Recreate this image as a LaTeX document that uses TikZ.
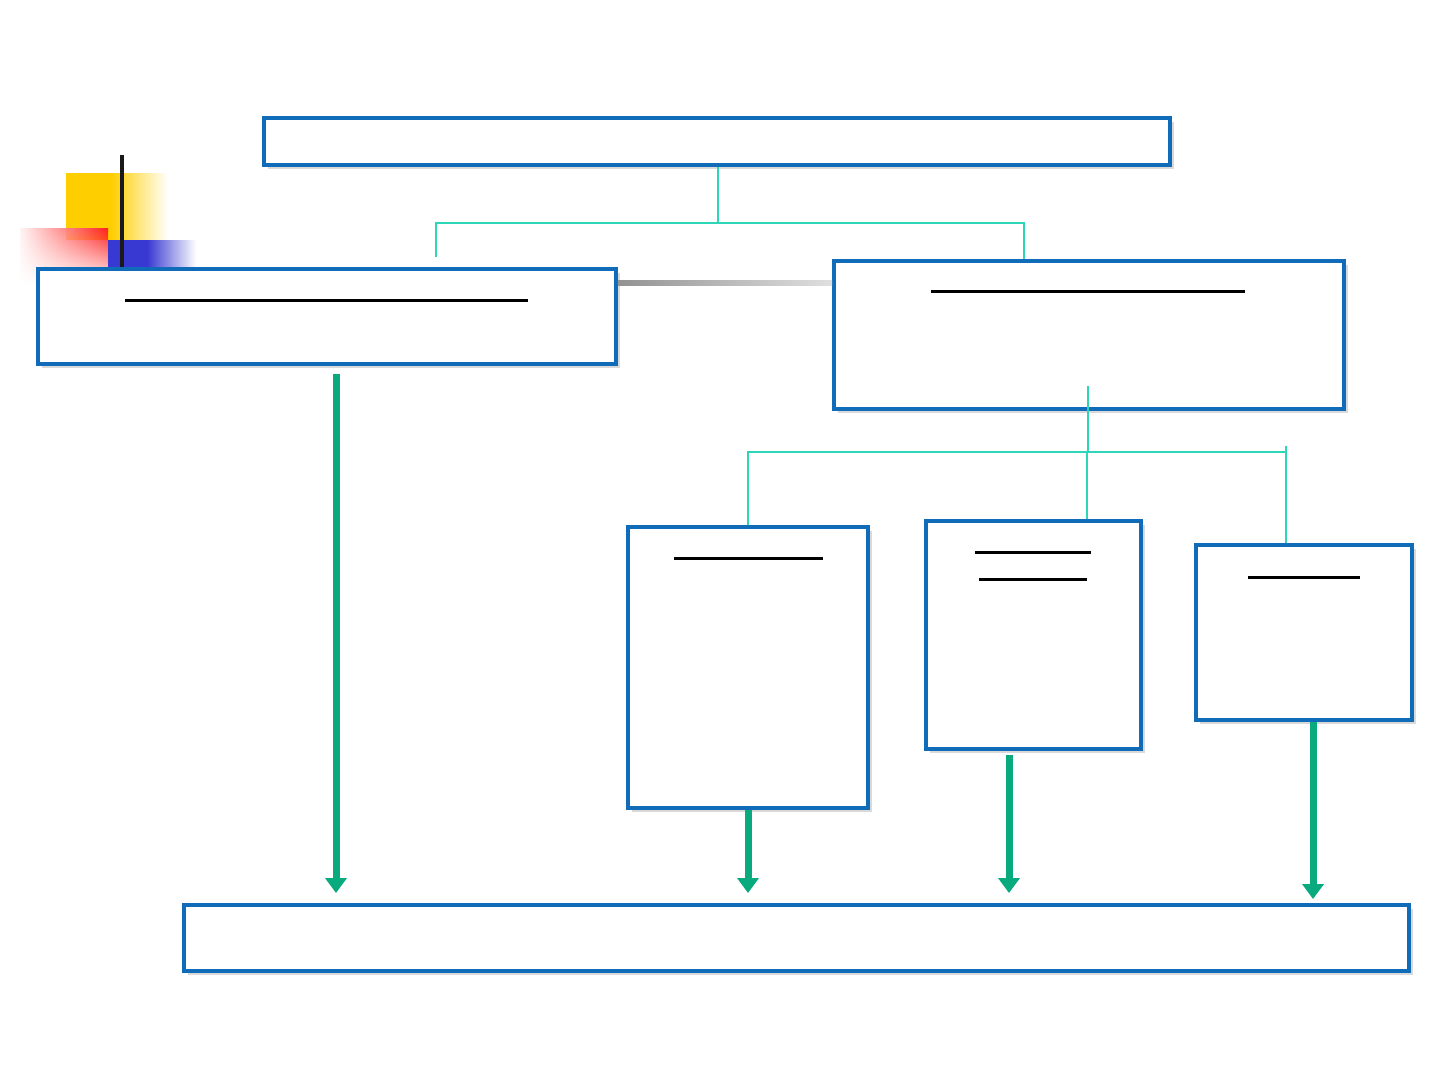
\documentclass[tikz,border=0pt]{standalone}
\usepackage{tikz}
\usetikzlibrary{arrows.meta, positioning, shadows, calc, fadings}
\definecolor{BoxBlue}{RGB}{16, 108, 184}
\definecolor{TreeGreen}{RGB}{46, 214, 184}
\definecolor{ArrowGreen}{RGB}{8, 170, 126}
\definecolor{DecoYellow}{RGB}{255, 206, 0}
\definecolor{DecoRed}{RGB}{255, 32, 32}
\definecolor{DecoBlue}{RGB}{56, 56, 210}
\begin{document}
\begin{tikzpicture}[x=0.02cm, y=-0.02cm]
        \tikzstyle{panel} = [rectangle, draw=BoxBlue, line width=0.08cm, fill=white, inner sep=0pt, drop shadow={shadow xshift=0.08cm, shadow yshift=-0.08cm, opacity=0.3, fill=gray}]
        \tikzstyle{tree} = [TreeGreen, line width=0.7pt]
        \tikzstyle{flow} = [-{Triangle[width=0.42cm, length=0.3cm]}, ArrowGreen, line width=0.14cm]
        \tikzstyle{uline} = [black, line width=0.06cm]

        \useasboundingbox (0,0) rectangle (1440,1080);

        % Decoration
        \fill[DecoYellow] (66,173) rectangle (112,240);
        \shade[left color=DecoYellow, right color=white] (111,173) rectangle (168,240);
        \shade[left color=DecoRed!5, right color=DecoRed, path fading=south] (20,228) rectangle (108,285);
        \fill[DecoBlue] (108,240) rectangle (148,270);
        \shade[left color=DecoBlue, right color=white] (147,240) rectangle (196,270);
        \draw[black!90, line width=0.09cm] (122,155) -- (122,270);

        % Noduri
        \node (top) [panel, minimum width=18.12cm, minimum height=0.94cm] at (717,141.5) {};
        \node (left) [panel, minimum width=11.56cm, minimum height=1.9cm] at (327,316.5) {};
        \node (right) [panel, minimum width=10.2cm, minimum height=2.96cm] at (1089,335) {};
        \node (boxA) [panel, minimum width=4.8cm, minimum height=5.62cm] at (748,667.5) {};
        \node (boxB) [panel, minimum width=4.3cm, minimum height=4.56cm] at (1033.5,635) {};
        \node (boxC) [panel, minimum width=4.32cm, minimum height=3.5cm] at (1304,632.5) {};
        \node (bottom) [panel, minimum width=24.5cm, minimum height=1.32cm] at (796.5,938) {};

        % Bara gri
        \shade[left color=gray!85, right color=gray!25] (left.east |- 0,280) rectangle (right.west |- 0,285);

        % Subliniere
        \draw[uline] (125,300) -- (528,300);
        \draw[uline] (931,291) -- (1245,291);
        \draw[uline] (674,558) -- (823,558);
        \draw[uline] (975,552) -- (1091,552);
        \draw[uline] (979,579) -- (1087,579);
        \draw[uline] (1248,577) -- (1360,577);

        % Arbore sus
        \coordinate (j1) at (718,223);
        \coordinate (leftend) at (436,257);
        \draw[tree] (top.south -| j1) -- (j1);
        \draw[tree] (leftend) |- (j1) -| (right.north -| 1024,0);

        % Arbore jos
        \coordinate (rstart) at (1088,386);
        \coordinate (j2) at (1088,452);
        \coordinate (cend) at (1286,446);
        \draw[tree] (rstart) -- (j2);
        \draw[tree] (boxA.north -| 748,0) |- (j2) -- (j2 -| cend);
        \draw[tree] (cend) -- (boxC.north -| cend);
        \draw[tree] (1087,453) -- (boxB.north -| 1087,0);
        \draw[TreeGreen, line width=1.6pt] (1087,453) -- (1087,486);

        % Sageti
        \draw[flow] ($(left.south -| 336,0)+(0,8)$) -- (336,893);
        \draw[flow] (boxA.south) -- (748,893);
        \draw[flow] ($(boxB.south -| 1009,0)+(0,4)$) -- (1009,893);
        \draw[flow] (boxC.south -| 1313,0) -- (1313,899);
\end{tikzpicture}
\end{document}
